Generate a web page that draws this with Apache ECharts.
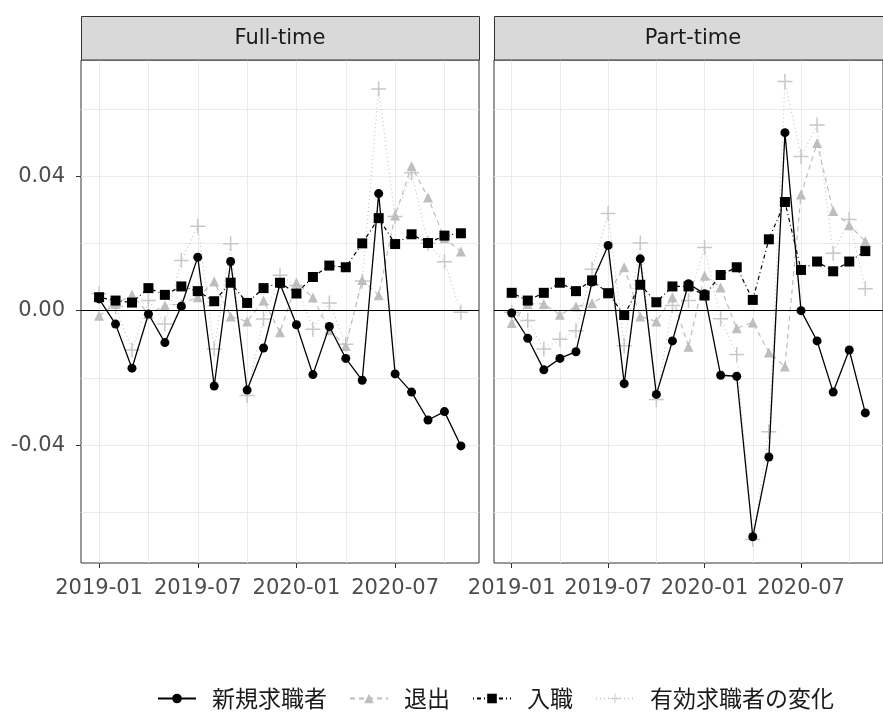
<!DOCTYPE html>
<html><head><meta charset="utf-8">
<script src="https://cdn.jsdelivr.net/npm/echarts@6/dist/echarts.min.js"></script>
<style>html,body{margin:0;padding:0;background:#fff}#c{width:883px;height:716px}</style>
</head><body><div id="c"></div>
<script>
// ---- data ----
const months = ['2019-01','2019-02','2019-03','2019-04','2019-05','2019-06','2019-07','2019-08','2019-09','2019-10','2019-11','2019-12',
                '2020-01','2020-02','2020-03','2020-04','2020-05','2020-06','2020-07','2020-08','2020-09','2020-10','2020-11'];
const facets = ['Full-time','Part-time'];
const seriesNames = ['新規求職者','退出','入職','有効求職者の変化'];

const ftNew  = [0.0035,-0.0040,-0.0171,-0.0010,-0.0095,0.0013,0.0159,-0.0224,0.0146,-0.0236,-0.0111,0.0080,-0.0042,-0.0190,-0.0047,-0.0142,-0.0207,0.0348,-0.0188,-0.0242,-0.0325,-0.0300,-0.0402];
const ftExit = [-0.0015,0.0020,0.0047,-0.0010,0.0015,0.0020,0.0040,0.0087,-0.0017,-0.0032,0.0030,-0.0064,0.0083,0.0039,-0.0058,-0.0105,0.0091,0.0046,0.0283,0.0429,0.0336,0.0215,0.0176];
const ftHire = [0.0040,0.0030,0.0024,0.0067,0.0047,0.0072,0.0058,0.0028,0.0083,0.0023,0.0067,0.0083,0.0051,0.0100,0.0134,0.0129,0.0200,0.0275,0.0198,0.0227,0.0201,0.0223,0.0230];
const ftChg  = [0.0050,0.0012,-0.0117,0.0030,-0.0040,0.0149,0.0251,-0.0114,0.0199,-0.0252,-0.0025,0.0105,0.0075,-0.0055,0.0023,-0.0100,0.0088,0.0659,0.0280,0.0410,0.0200,0.0145,-0.0005];

const ptNew  = [-0.0007,-0.0082,-0.0176,-0.0142,-0.0122,0.0085,0.0194,-0.0217,0.0154,-0.0249,-0.0090,0.0080,0.0050,-0.0192,-0.0195,-0.0672,-0.0435,0.0529,0.0000,-0.0090,-0.0242,-0.0117,-0.0304];
const ptExit = [-0.0037,0.0020,0.0020,-0.0012,0.0012,0.0022,0.0050,0.0129,-0.0017,-0.0032,0.0040,-0.0107,0.0104,0.0069,-0.0052,-0.0035,-0.0124,-0.0166,0.0345,0.0498,0.0296,0.0254,0.0206];
const ptHire = [0.0053,0.0030,0.0053,0.0083,0.0058,0.0090,0.0052,-0.0013,0.0077,0.0025,0.0072,0.0072,0.0045,0.0106,0.0129,0.0032,0.0212,0.0323,0.0121,0.0146,0.0117,0.0146,0.0177];
const ptChg  = [-0.0005,-0.0029,-0.0114,-0.0085,-0.0060,0.0123,0.0289,-0.0104,0.0201,-0.0264,0.0015,0.0030,0.0188,-0.0024,-0.0130,-0.0680,-0.0360,0.0681,0.0458,0.0552,0.0171,0.0271,0.0065];

const xTickLabels = ['2019-01','2019-07','2020-01','2020-07'];
const yTickValues = [-0.04, 0, 0.04];
const yGridValues = [-0.06,-0.04,-0.02,0,0.02,0.04,0.06];

// ---- layout / style ----
const panelData = [[ftNew, ftExit, ftHire, ftChg],[ptNew, ptExit, ptHire, ptChg]];
const L = [81, 494], W = 398, TOP = 60, H = 503;
const FONT = '"DejaVu Sans", "Liberation Sans", sans-serif';
const CJK = '"Noto Sans CJK JP", "DejaVu Sans", sans-serif';
const XMIN = -1.1, XMAX = months.length - 1 + 1.1;
const YMIN = -0.0750, YMAX = 0.0745;
const xGridIdx = months.map((m,i)=>i).filter(i => i % 3 === 0);
const xTickIdx = xTickLabels.map(l => months.indexOf(l));
const PLUS = 'path://M9,0h2v20h-2z M0,9h20v2h-20z';

const styles = [
  {symbol:'circle', symbolSize:9, color:'#000000', line:{type:'solid', width:1.3, color:'#000000'}, z:4},
  {symbol:'triangle', symbolSize:10, color:'#BEBEBE', line:{type:[5,4], width:1.2, color:'#BEBEBE'}, z:3},
  {symbol:'rect', symbolSize:10, color:'#000000', line:{type:[1,3,4,3], width:1.2, color:'#000000'}, z:5},
  {symbol:PLUS, symbolSize:15, color:'#C8C8C8', line:{type:[1,3], width:1.2, color:'#C8C8C8'}, z:2}
];

const grids = L.map(l => ({left:l, top:TOP, width:W, height:H, show:true,
  borderColor:'#333333', borderWidth:1, backgroundColor:'#ffffff'}));

const xAxes = [], yAxes = [];
L.forEach((l, g) => {
  xAxes.push({gridIndex:g, type:'value', min:XMIN, max:XMAX,
    axisLine:{show:false, onZero:false}, axisTick:{show:false, customValues:xGridIdx},
    axisLabel:{show:false}, splitLine:{show:true, lineStyle:{color:'#EBEBEB', width:1}}});
  xAxes.push({gridIndex:g, type:'value', min:XMIN, max:XMAX, position:'bottom',
    axisLine:{show:false, onZero:false}, axisTick:{show:true, customValues:xTickIdx, length:5, lineStyle:{color:'#333333', width:1}},
    axisLabel:{show:true, customValues:xTickIdx, formatter:v => months[Math.round(v)], color:'#4D4D4D',
      fontSize:21, fontFamily:FONT, margin:15},
    splitLine:{show:false}});
  yAxes.push({gridIndex:g, type:'value', min:YMIN, max:YMAX,
    axisLine:{show:false, onZero:false}, axisTick:{show:false, customValues:yGridValues},
    axisLabel:{show:false}, splitLine:{show:true, lineStyle:{color:'#EBEBEB', width:1}}});
  yAxes.push({gridIndex:g, type:'value', min:YMIN, max:YMAX, position:'left',
    axisLine:{show:false, onZero:false}, axisTick:{show:g===0, customValues:yTickValues, length:5, lineStyle:{color:'#333333', width:1}},
    axisLabel:{show:g===0, customValues:yTickValues, formatter:v => v.toFixed(2), color:'#4D4D4D',
      fontSize:21, fontFamily:FONT, margin:16},
    splitLine:{show:false}});
});

const series = [];
panelData.forEach((arrs, g) => {
  arrs.forEach((vals, s) => {
    const st = styles[s];
    const ser = {
      name: seriesNames[s], type:'line', xAxisIndex:2*g, yAxisIndex:2*g,
      data: vals.map((v,i) => [i, v]),
      symbol: st.symbol, symbolSize: st.symbolSize, showAllSymbol:true,
      itemStyle:{color:st.color, borderWidth:0, opacity:1},
      lineStyle:st.line, z:st.z, animation:false, silent:true
    };
    if (s === 3) {
      ser.markLine = {silent:true, symbol:'none', label:{show:false}, animation:false,
        lineStyle:{color:'#000000', type:'solid', width:1.2}, data:[{yAxis:0}]};
    }
    series.push(ser);
  });
});

const graphic = [];
facets.forEach((f, g) => {
  graphic.push({type:'rect', shape:{x:L[g]+0.5, y:16.5, width:W, height:43.5},
    style:{fill:'#D9D9D9', stroke:'#333333', lineWidth:1}, z:10});
  graphic.push({type:'text', x:L[g]+W/2, y:39, style:{text:f, textAlign:'center', textVerticalAlign:'middle',
    fontSize:21, fontFamily:FONT, fill:'#1A1A1A'}, z:11});
});

const chart = echarts.init(document.getElementById('c'), null, {renderer:'canvas'});
chart.setOption({
  animation:false,
  backgroundColor:'#ffffff',
  grid:grids, xAxis:xAxes, yAxis:yAxes, series:series, graphic:graphic,
  legend:{data:seriesNames, left:157, top:687, itemWidth:38, itemHeight:12, itemGap:22, padding:0,
    textStyle:{fontSize:23, fontFamily:CJK, color:'#1A1A1A', padding:[0,0,0,11]}}
});
</script></body></html>
